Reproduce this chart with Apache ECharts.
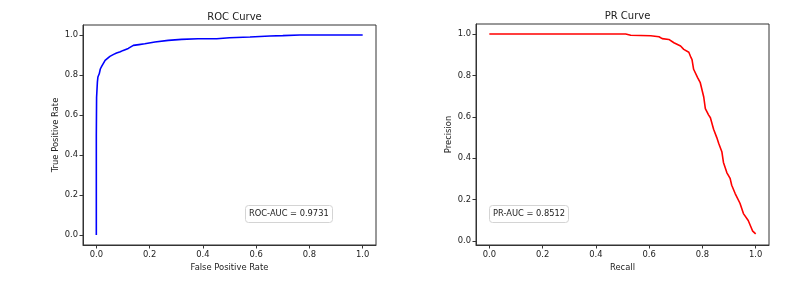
<!DOCTYPE html>
<html>
<head>
<meta charset="utf-8">
<script src="https://cdn.jsdelivr.net/npm/echarts@6/dist/echarts.min.js"></script>
<style>
html,body{margin:0;padding:0;background:#fff;}
#chart{width:797px;height:284px;}
</style>
</head>
<body>
<div id="chart"></div>
<script>
// ---- data ----
var rocFpr = [0, 0.0, 0.001, 0.004, 0.006, 0.011, 0.015, 0.02, 0.033, 0.04, 0.051, 0.065, 0.076, 0.09, 0.101, 0.12, 0.139, 0.16, 0.182, 0.22, 0.27, 0.32, 0.382, 0.452, 0.5, 0.577, 0.652, 0.7, 0.764, 0.85, 1.0];
var rocTpr = [0, 0.5, 0.689, 0.764, 0.79, 0.806, 0.83, 0.843, 0.873, 0.882, 0.893, 0.903, 0.91, 0.916, 0.923, 0.933, 0.948, 0.952, 0.956, 0.965, 0.973, 0.978, 0.981, 0.981, 0.986, 0.99, 0.995, 0.997, 1.0, 1.0, 1.0];
var prRecall = [0, 0.512, 0.531, 0.606, 0.637, 0.649, 0.674, 0.693, 0.718, 0.73, 0.749, 0.757, 0.761, 0.767, 0.782, 0.792, 0.805, 0.811, 0.823, 0.83, 0.842, 0.854, 0.861, 0.873, 0.879, 0.892, 0.904, 0.91, 0.923, 0.941, 0.954, 0.96, 0.972, 0.979, 0.985, 0.988, 1.0];
var prPrecision = [1, 1, 0.994, 0.992, 0.987, 0.978, 0.974, 0.958, 0.942, 0.926, 0.912, 0.887, 0.877, 0.83, 0.79, 0.765, 0.696, 0.64, 0.61, 0.596, 0.54, 0.5, 0.473, 0.432, 0.38, 0.33, 0.303, 0.27, 0.23, 0.183, 0.133, 0.125, 0.1, 0.095, 0.06, 0.05, 0.035];
var tickValues = [0, 0.2, 0.4, 0.6, 0.8, 1.0];
var rocTitle = 'ROC Curve';
var prTitle = 'PR Curve';
var rocAucText = 'ROC-AUC = 0.9731';
var prAucText = 'PR-AUC = 0.8512';

function zip(a, b) { return a.map(function (v, i) { return [v, b[i]]; }); }

var FONT = 'DejaVu Sans';
var axisColor = '#333';
var tickFont = 8.4;

function valueAxis(gridIndex, min, max, name, isY, gap) {
  return {
    type: 'value', gridIndex: gridIndex, min: min, max: max,
    name: name, nameLocation: 'middle', nameGap: gap,
    nameTextStyle: { fontFamily: FONT, fontSize: tickFont, color: '#222' },
    axisLine: { show: true, onZero: false, lineStyle: { color: axisColor, width: 1 } },
    axisTick: { show: true, length: 3.5, inside: false, customValues: tickValues, lineStyle: { color: axisColor, width: 1 } },
    axisLabel: { customValues: tickValues, fontFamily: FONT, fontSize: tickFont, color: '#222', margin: isY ? 5 : 6,
      formatter: function (v) { return v.toFixed(1); } },
    splitLine: { show: false }
  };
}

var chart = echarts.init(document.getElementById('chart'), null, { renderer: 'canvas' });
chart.setOption({
  animation: false,
  backgroundColor: '#fff',
  title: [
    { text: rocTitle, left: 229.5, top: 7, textAlign: 'center', textStyle: { fontFamily: FONT, fontSize: 10, fontWeight: 'normal', color: '#222' } },
    { text: prTitle, left: 622.5, top: 6, textAlign: 'center', textStyle: { fontFamily: FONT, fontSize: 10, fontWeight: 'normal', color: '#222' } },
    { text: rocAucText, left: 245, top: 205, padding: [4, 4], borderColor: '#d4d4d4', borderWidth: 1, borderRadius: 3, backgroundColor: '#fff',
      textStyle: { fontFamily: FONT, fontSize: 8.3, lineHeight: 10, fontWeight: 'normal', color: '#222' } },
    { text: prAucText, left: 489, top: 205, padding: [4, 4], borderColor: '#d4d4d4', borderWidth: 1, borderRadius: 3, backgroundColor: '#fff',
      textStyle: { fontFamily: FONT, fontSize: 8.3, lineHeight: 10, fontWeight: 'normal', color: '#222' } }
  ],
  grid: [
    { left: 83, top: 25, width: 293, height: 220, show: true, borderColor: axisColor, borderWidth: 1, backgroundColor: 'transparent', containLabel: false },
    { left: 476, top: 24, width: 293, height: 221, show: true, borderColor: axisColor, borderWidth: 1, backgroundColor: 'transparent', containLabel: false }
  ],
  xAxis: [
    valueAxis(0, -0.05, 1.05, 'False Positive Rate', false, 16),
    valueAxis(1, -0.05, 1.05, 'Recall', false, 16)
  ],
  yAxis: [
    valueAxis(0, -0.05, 1.05, 'True Positive Rate', true, 23),
    valueAxis(1, -0.0185, 1.0485, 'Precision', true, 23)
  ],
  series: [
    { type: 'line', xAxisIndex: 0, yAxisIndex: 0, data: zip(rocFpr, rocTpr), showSymbol: false, smooth: false,
      lineStyle: { color: '#0000ff', width: 1.6 }, itemStyle: { color: '#0000ff' }, z: 3 },
    { type: 'line', xAxisIndex: 1, yAxisIndex: 1, data: zip(prRecall, prPrecision), showSymbol: false, smooth: false,
      lineStyle: { color: '#ff0000', width: 1.6 }, itemStyle: { color: '#ff0000' }, z: 3 }
  ]
});
</script>
</body>
</html>
